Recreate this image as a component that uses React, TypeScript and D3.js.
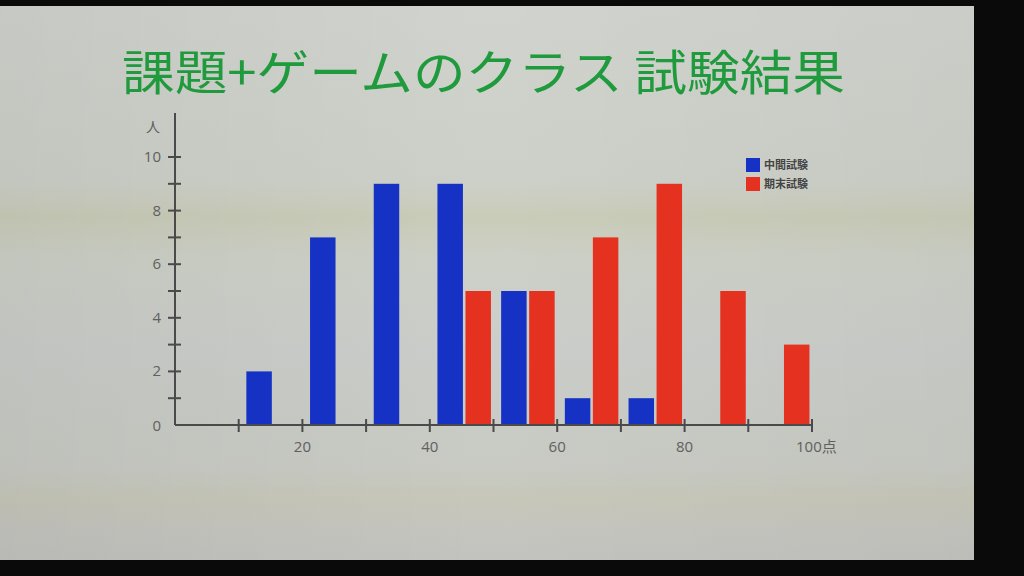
import React from "react";
import * as d3 from "d3";

const title = "課題+ゲームのクラス 試験結果";
const binStarts = [10, 20, 30, 40, 50, 60, 70, 80, 90];
const midterm = [2, 7, 9, 9, 5, 1, 1, 0, 0];
const finals = [0, 0, 0, 5, 5, 7, 9, 5, 3];
const seriesNames = ["中間試験", "期末試験"];
const xTickValues = [10, 20, 30, 40, 50, 60, 70, 80, 90, 100];
const xLabelValues = [20, 40, 60, 80, 100];
const yTickValues = [1, 2, 3, 4, 5, 6, 7, 8, 9, 10];
const yLabelValues = [0, 2, 4, 6, 8, 10];

const BLUE = "#1532c4";
const RED = "#e5311f";
const AXIS = "#4a4a4a";
const LABEL = "#606060";

export default function App() {
  const x = d3.scaleLinear().domain([0, 100]).range([175, 812]);
  const y = d3.scaleLinear().domain([0, 10]).range([425, 157]);
  const font = "'Open Sans', 'Noto Sans', sans-serif";
  const cjk = "'Noto Sans CJK JP', sans-serif";

  return (
    <svg
      width={1024}
      height={576}
      style={{ position: "absolute", left: 0, top: 0, display: "block" }}
    >
      <defs>
        <linearGradient id="bg" x1="0" y1="0" x2="0" y2="1">
          <stop offset="0" stopColor="#d1d3ce" />
          <stop offset="0.32" stopColor="#cdd0c8" />
          <stop offset="0.38" stopColor="#caccb9" />
          <stop offset="0.46" stopColor="#cdd0c7" />
          <stop offset="0.62" stopColor="#cbcdca" />
          <stop offset="0.84" stopColor="#c8cac3" />
          <stop offset="0.89" stopColor="#c7c7b9" />
          <stop offset="0.95" stopColor="#c4c5bf" />
          <stop offset="1" stopColor="#c2c3be" />
        </linearGradient>
        <linearGradient id="side" x1="0" y1="0" x2="1" y2="0">
          <stop offset="0" stopColor="#000" stopOpacity="0.05" />
          <stop offset="0.5" stopColor="#000" stopOpacity="0" />
          <stop offset="1" stopColor="#000" stopOpacity="0.03" />
        </linearGradient>
      </defs>
      <rect x={0} y={0} width={1024} height={576} fill="#0a0a0a" />
      <rect x={0} y={6} width={974} height={554} fill="url(#bg)" />
      <rect x={0} y={6} width={974} height={554} fill="url(#side)" />

      <text
        x={122}
        y={90}
        fill="#1f9a3c"
        fontFamily={cjk}
        fontSize={48}
        textLength={723}
        lengthAdjust="spacingAndGlyphs"
      >
        {title}
      </text>

      {/* bars */}
      {binStarts.map((b, i) =>
        midterm[i] > 0 ? (
          <rect
            key={"m" + i}
            x={x(b + 1.2)}
            y={y(midterm[i])}
            width={x(b + 5.2) - x(b + 1.2)}
            height={y(0) - y(midterm[i])}
            fill={BLUE}
          />
        ) : null
      )}
      {binStarts.map((b, i) =>
        finals[i] > 0 ? (
          <rect
            key={"f" + i}
            x={x(b + 5.6)}
            y={y(finals[i])}
            width={x(b + 9.6) - x(b + 5.6)}
            height={y(0) - y(finals[i])}
            fill={RED}
          />
        ) : null
      )}

      {/* y axis */}
      <line x1={x(0)} x2={x(0)} y1={113} y2={y(0)} stroke={AXIS} strokeWidth={2} />
      {yTickValues.map((v) => (
        <line key={"yt" + v} x1={x(0) - 7} x2={x(0) + 6} y1={y(v)} y2={y(v)} stroke={AXIS} strokeWidth={2} />
      ))}
      {yLabelValues.map((v) => (
        <text
          key={"yl" + v}
          x={x(0) - 14}
          y={y(v) + (v === 0 ? 6 : 5)}
          textAnchor="end"
          fontFamily={font}
          fontSize={15}
          fill={LABEL}
        >
          {v}
        </text>
      ))}
      <text x={146} y={132} fontFamily={cjk} fontSize={14} fill={LABEL}>
        人
      </text>

      {/* x axis */}
      <line x1={x(0)} x2={x(100)} y1={y(0)} y2={y(0)} stroke={AXIS} strokeWidth={2} />
      {xTickValues.map((v) => (
        <line key={"xt" + v} x1={x(v)} x2={x(v)} y1={y(0) - 6} y2={y(0) + 7} stroke={AXIS} strokeWidth={2} />
      ))}
      {xLabelValues.map((v) => (
        <text
          key={"xl" + v}
          x={x(v) - (v === 100 ? 16 : 0)}
          y={452}
          textAnchor={v === 100 ? "start" : "middle"}
          fontFamily={font}
          fontSize={15}
          fill={LABEL}
        >
          {v === 100 ? (
            <>
              {v}
              <tspan fontFamily={cjk}>点</tspan>
            </>
          ) : (
            v
          )}
        </text>
      ))}

      {/* legend */}
      {seriesNames.map((n, i) => (
        <g key={n} transform={`translate(746, ${158 + i * 19})`}>
          <rect x={0} y={0} width={14} height={14} fill={i === 0 ? BLUE : RED} />
          <text x={18} y={11} fontFamily={cjk} fontSize={11} fontWeight={700} fill="#444">
            {n}
          </text>
        </g>
      ))}
    </svg>
  );
}
